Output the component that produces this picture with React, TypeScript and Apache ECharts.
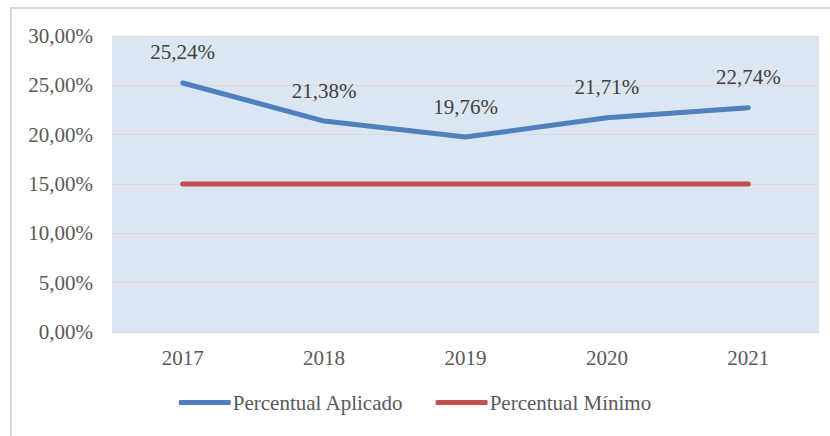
import React, { useEffect, useRef } from "react";
import * as echarts from "echarts";

const years = ["2017", "2018", "2019", "2020", "2021"];
const aplicado = [25.24, 21.38, 19.76, 21.71, 22.74];
const minimo = [15, 15, 15, 15, 15];
const seriesNames = ["Percentual Aplicado", "Percentual Mínimo"];

const fmt = (v: number) => v.toFixed(2).replace(".", ",") + "%";
const FONT = "'Liberation Serif', 'DejaVu Serif', serif";
const FS = 21;

export default function App() {
  const ref = useRef<HTMLDivElement>(null);
  useEffect(() => {
    if (!ref.current) return;
    const chart = echarts.init(ref.current, null, { renderer: "svg" });
    chart.setOption({
      animation: false,
      backgroundColor: "#ffffff",
      textStyle: { fontFamily: FONT },
      graphic: [
        {
          type: "rect",
          shape: { x: 11, y: 8, width: 830, height: 440 },
          style: { fill: "none", stroke: "#d9d9d9", lineWidth: 2 },
          silent: true,
          z: -1,
        },
      ],
      grid: {
        left: 112,
        right: 11,
        top: 36,
        bottom: 104,
        show: true,
        backgroundColor: "#dce6f2",
        borderWidth: 0,
      },
      xAxis: {
        type: "category",
        data: years,
        boundaryGap: true,
        axisLine: { show: true, lineStyle: { color: "#d9d9d9", width: 1 } },
        axisTick: { show: false },
        axisLabel: { color: "#595959", fontSize: FS, fontFamily: FONT, margin: 15 },
      },
      yAxis: {
        type: "value",
        min: 0,
        max: 30,
        interval: 5,
        axisLine: { show: false },
        axisTick: { show: false },
        splitLine: { show: true, lineStyle: { color: "#d9d9d9", width: 1 } },
        axisLabel: {
          color: "#595959",
          fontSize: FS,
          fontFamily: FONT,
          margin: 19,
          formatter: (v: number) => fmt(v),
        },
      },
      legend: {
        bottom: 18,
        left: "center",
        itemWidth: 52,
        itemHeight: 5,
        itemGap: 32,
        icon: "roundRect",
        textStyle: { color: "#595959", fontSize: FS, fontFamily: FONT, padding: [0, 0, 0, -3] },
        data: seriesNames,
      },
      series: [
        {
          name: seriesNames[0],
          type: "line",
          data: aplicado,
          symbol: "circle",
          symbolSize: 0.01,
          showSymbol: true,
          lineStyle: { color: "#4f81bd", width: 5, cap: "round" },
          itemStyle: { color: "#4f81bd" },
          label: {
            show: true,
            position: "top",
            distance: 20,
            color: "#404040",
            fontSize: FS,
            fontFamily: FONT,
            formatter: (p: any) => fmt(p.value),
          },
        },
        {
          name: seriesNames[1],
          type: "line",
          data: minimo,
          symbol: "none",
          lineStyle: { color: "#c0504d", width: 5, cap: "round" },
          itemStyle: { color: "#c0504d" },
        },
      ],
    });
    return () => chart.dispose();
  }, []);
  return <div ref={ref} style={{ width: 830, height: 436, position: "absolute", left: 0, top: 0 }} />;
}
